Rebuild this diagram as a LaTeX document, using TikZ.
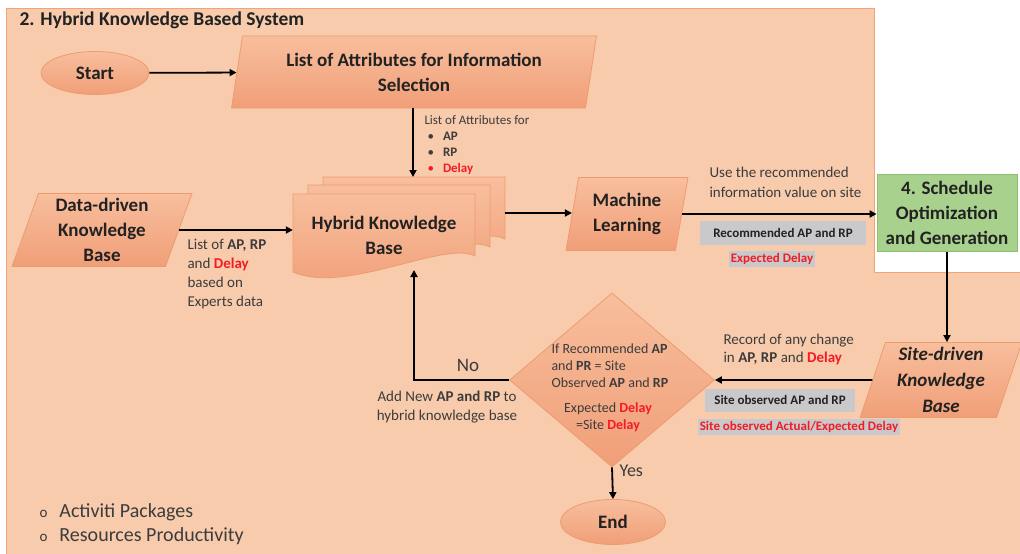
\documentclass[tikz,border=0pt]{standalone}
\usepackage{fontspec}
\setmainfont{Carlito}
\usetikzlibrary{arrows.meta,positioning,shapes.geometric,calc}
\definecolor{Peach}{HTML}{F8CBAD}
\definecolor{PeachLine}{HTML}{F2A477}
\definecolor{SalmonTop}{HTML}{F8BE9D}
\definecolor{SalmonBot}{HTML}{F09F78}
\definecolor{SalmonLine}{HTML}{EE9B6E}
\definecolor{LeafFill}{HTML}{A9D18E}
\definecolor{LeafLine}{HTML}{8CC070}
\definecolor{Grey}{HTML}{C9C9CB}
\definecolor{DelayRed}{HTML}{F41B24}
\definecolor{Ink}{HTML}{222222}
\definecolor{Soft}{HTML}{3C3C3C}
\newcommand{\dly}{\textcolor{DelayRed}{\textbf{Delay}}}

\begin{document}
\begin{tikzpicture}[x=1pt,y=-1pt,
    big/.style={font=\bfseries\fontsize{19}{25}\selectfont,text=Ink,align=center},
    sheet/.style={top color=SalmonTop,bottom color=SalmonBot,draw=SalmonLine,line width=0.8pt},
    oval/.style={big,sheet,ellipse,inner sep=0pt},
    slab/.style 2 args={big,sheet,trapezium,trapezium stretches=true,
      trapezium left angle=#1,trapezium right angle=#2,inner sep=0pt},
    note/.style={font=\fontsize{15}{19}\selectfont,text=Soft,align=left},
    greybox/.style={fill=Grey,font=\bfseries\fontsize{13}{15}\selectfont,text=Ink,inner sep=0pt},
    arr/.style={-{Triangle[length=7pt,width=7pt]},line width=1.8pt,black}
  ]
  \useasboundingbox (0,0) rectangle (1020,554);
  % background panel
  \fill[Peach,draw=PeachLine,line width=1pt] (6,8) -- (874,8) -- (874,272)
    -- (1030,272) -- (1030,570) -- (6,570) -- cycle;
  \node[anchor=west,font=\bfseries\fontsize{19.5}{22}\selectfont,text=Ink] (title) at (16,20)
    {2. Hybrid Knowledge Based System};

  \node[oval,minimum width=108pt,minimum height=43pt] (start) at (95,73) {Start};
  \node[slab={78}{102},minimum width=365pt,minimum height=72pt] (attr) at (414,72)
    {List of Attributes for Information\\Selection};
  \node[slab={73}{107},minimum width=180pt,minimum height=73pt] (dkb) at (102,230)
    {Data-driven\\Knowledge\\Base};

  % stacked documents
  \foreach \dx/\dy in {30/-17,15/-9,0/0}
    \draw[sheet,shift={(\dx,\dy)}] (293,194) -- (475,194) -- (475,256)
      .. controls (445,240) and (345,295) .. (293,272) -- cycle;
  \node[big,minimum width=182pt] (hkb) at (384,235) {Hybrid Knowledge\\Base};
  \coordinate (hkbtop) at (413,177);
  \coordinate (hkbback) at (505,213);
  \coordinate (hkbbot) at (414,270);

  \node[slab={78}{102},minimum width=123pt,minimum height=73pt] (ml) at (627,214)
    {Machine\\Learning};
  \node[big,fill=LeafFill,draw=LeafLine,line width=0.8pt,minimum width=140pt,
    minimum height=77pt,inner sep=0pt] (sched) at (947,213)
    {4. Schedule\\Optimization\\and Generation};
  \node[slab={73}{107},font=\bfseries\itshape\fontsize{19}{26}\selectfont,
    minimum width=162pt,minimum height=75pt] (skb) at (941,380)
    {Site-driven\\Knowledge\\Base};
  \node[diamond,sheet,minimum width=205pt,minimum height=174pt,inner sep=0pt] (dec) at (612,380) {};
  \node[oval,minimum width=105pt,minimum height=45pt] (end) at (613,522) {End};

  % connectors
  \draw[arr] (start) -- (attr);
  \draw[arr] (attr.south -| hkbtop) -- (hkbtop);
  \draw[arr] (dkb.east) -- (dkb.east -| hkb.west);
  \draw[arr] (hkbback) -- (hkbback -| ml.west);
  \draw[arr] (ml.east) -- (ml.east -| sched.west);
  \draw[arr] (sched.south) -- (sched.south |- skb.north);
  \draw[arr] (skb.west) -- (dec.east);
  \draw[arr] (dec.west) -| (hkbbot);
  \draw[arr] (dec.south) -- (end.north);

  % texts
  \node[note,font=\fontsize{13}{16}\selectfont,anchor=west] (attrlist) at (421,145)
    {List of Attributes for\\
     \hspace{3pt}•\hspace{9pt}\textbf{AP}\\
     \hspace{3pt}•\hspace{9pt}\textbf{RP}\\
     \hspace{3pt}\textcolor{DelayRed}{•}\hspace{9pt}\dly};
  \node[note,anchor=west] (dkbnote) at (184,274)
    {List of \textbf{AP, RP}\\and \dly\\based on\\Experts data};
  \node[note,font=\fontsize{15}{20}\selectfont,anchor=west] (mlnote) at (706,182)
    {Use the recommended\\information value on site};
  \node[greybox,minimum width=166pt,minimum height=24pt] (recap) at (783,233)
    {Recommended AP and RP};
  \node[greybox,text=DelayRed,inner sep=2pt] (expd) at (772,259) {Expected Delay};
  \node[note,font=\fontsize{15}{18}\selectfont,anchor=west] (recnote) at (720,349)
    {Record of any change\\in \textbf{AP, RP} and \dly};
  \node[greybox,minimum width=150pt,minimum height=23pt] (siteap) at (780,400)
    {Site observed AP and RP};
  \node[greybox,text=DelayRed,inner sep=2pt] (sited) at (799,427)
    {Site observed Actual/Expected Delay};
  \node[note,font=\fontsize{14}{17}\selectfont,anchor=west] (decq) at (548,366)
    {If Recommended \textbf{AP}\\and \textbf{PR} = Site\\Observed \textbf{AP} and \textbf{RP}};
  \node[note,font=\fontsize{14}{17}\selectfont,align=center] (decd) at (608,417)
    {Expected \dly\\=Site \dly};
  \node[note,font=\fontsize{19}{22}\selectfont] (no) at (468,365) {No};
  \node[note,align=center] (addnew) at (447,407)
    {Add New \textbf{AP and RP} to\\hybrid knowledge base};
  \node[note,font=\fontsize{18}{22}\selectfont,anchor=west] (yes) at (616,471) {Yes};
  \node[note,font=\fontsize{20}{24}\selectfont,anchor=west] (legend) at (36,524)
    {{\fontsize{15}{15}\selectfont o}\hspace{12pt}Activiti Packages\\
     {\fontsize{15}{15}\selectfont o}\hspace{12pt}Resources Productivity};
\end{tikzpicture}
\end{document}
